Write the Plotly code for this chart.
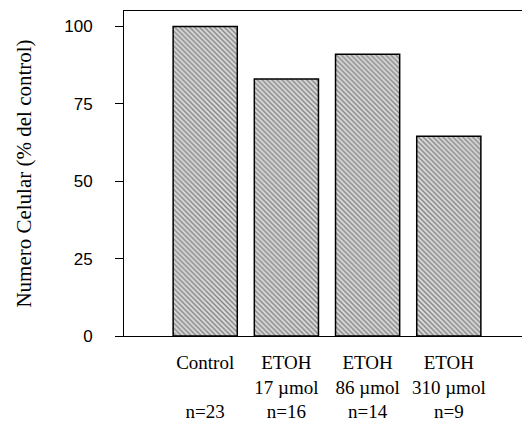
import plotly.graph_objects as go

categories = ["Control", "ETOH 17", "ETOH 86", "ETOH 310"]
values = [100, 83, 91, 64.5]
line1 = ["Control", "ETOH", "ETOH", "ETOH"]
line2 = ["", "17 \u00b5mol", "86 \u00b5mol", "310 \u00b5mol"]
line3 = ["n=23", "n=16", "n=14", "n=9"]
y_ticks = [0, 25, 50, 75, 100]

ticktext = [f"{a}<br>{b if b else ' '}<br>{c}" for a, b, c in zip(line1, line2, line3)]

fig = go.Figure()
fig.add_trace(go.Bar(
    x=list(range(len(categories))),
    y=values,
    width=0.79,
    marker=dict(
        color="#d0d0d0",
        line=dict(color="black", width=1.5),
        pattern=dict(shape="\\", fgcolor="#2a2a2a", bgcolor="#dadada", size=3.5, solidity=0.4),
    ),
    showlegend=False,
))

fig.update_layout(
    width=530, height=423,
    margin=dict(l=116, r=8, t=3, b=95),
    paper_bgcolor="white", plot_bgcolor="white",
    font=dict(family="Liberation Serif", color="black"),
)
fig.update_xaxes(
    range=[-1, 4], tickmode="array",
    tickvals=list(range(len(categories))), ticktext=ticktext,
    tickfont=dict(family="Liberation Serif", size=19, color="black"),
    ticklabelstandoff=9,
    showline=True, linecolor="black", linewidth=1, mirror=True,
    ticks="", showgrid=False, zeroline=False, automargin=False,
)
fig.update_yaxes(
    range=[0, 105], tickmode="array", tickvals=y_ticks,
    tickfont=dict(family="Liberation Sans", size=17, color="black"),
    ticklabelstandoff=19,
    showline=True, linecolor="black", linewidth=1, mirror=True,
    ticks="outside", ticklen=8, tickcolor="black",
    showgrid=False, zeroline=False, automargin=False,
    title=dict(text="Numero Celular (% del control)",
               font=dict(family="Liberation Serif", size=21, color="black"),
               standoff=26),
)

fig.write_html("out.html")
